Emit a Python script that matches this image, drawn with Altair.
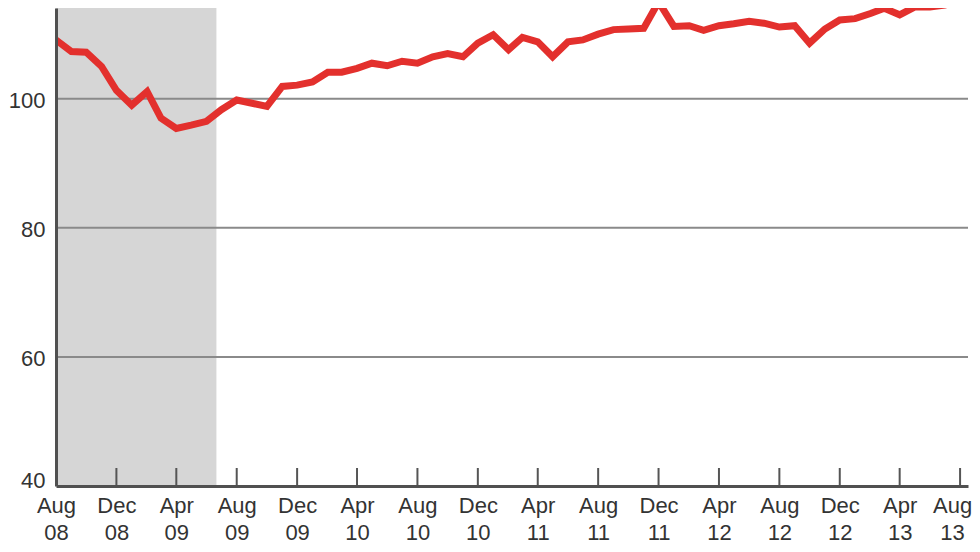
import altair as alt
import pandas as pd

# ---- data ----
start_month = "2008-08-01"
index_values = [
    109.1, 107.3, 107.2, 105.0, 101.3, 99.0, 101.1, 97.0, 95.4, 95.9,
    96.5, 98.3, 99.8, 99.3, 98.8, 101.9, 102.1, 102.6, 104.1, 104.1,
    104.7, 105.5, 105.1, 105.8, 105.5, 106.5, 107.0, 106.5, 108.6, 109.9,
    107.6, 109.5, 108.8, 106.5, 108.8, 109.1, 110.0, 110.7, 110.8, 110.9,
    115.0, 111.2, 111.3, 110.6, 111.3, 111.6, 112.0, 111.7, 111.1, 111.3,
    108.6, 110.8, 112.2, 112.4, 113.2, 114.0, 113.0, 114.2, 114.2, 114.5,
    115.2,
]
recession_start = ["2008-08-01"]
recession_end = ["2009-06-21"]
grid_levels = [60, 80, 100]
y_tick_values = [40, 60, 80, 100]
tick_dates = [
    "2008-12-01", "2009-04-01", "2009-08-01", "2009-12-01", "2010-04-01",
    "2010-08-01", "2010-12-01", "2011-04-01", "2011-08-01", "2011-12-01",
    "2012-04-01", "2012-08-01", "2012-12-01", "2013-04-01", "2013-08-01",
]
label_ymd = [
    (2008, 8), (2008, 12), (2009, 4), (2009, 8), (2009, 12), (2010, 4),
    (2010, 8), (2010, 12), (2011, 4), (2011, 8), (2011, 12), (2012, 4),
    (2012, 8), (2012, 12), (2013, 4), (2013, 8),
]

W, H = 912, 478

months = pd.date_range(start_month, periods=len(index_values), freq="MS")
df_line = pd.DataFrame({"month": months.strftime("%Y-%m-%d"), "value": index_values})
df_shade = pd.DataFrame({"start": recession_start, "end": recession_end})
df_grid = pd.DataFrame({"level": grid_levels})
df_ticks = pd.DataFrame({"tick": tick_dates})

xscale = alt.Scale(
    type="utc",
    domain=[alt.DateTime(year=2008, month=8, date=1, utc=True),
            alt.DateTime(year=2013, month=8, date=17, utc=True)],
)
yscale = alt.Scale(domain=[40, 114.05], nice=False, zero=False)

font = "Liberation Sans"

xaxis = alt.Axis(
    title=None,
    values=[alt.DateTime(year=y, month=m, date=1, utc=True) for y, m in label_ymd],
    labelExpr="[utcFormat(datum.value, '%b'), utcFormat(datum.value, '%y')]",
    ticks=False,
    grid=False,
    labelBaseline="top",
    labelPadding=9,
    labelLineHeight=27,
    labelOffset={"condition": {"test": "utcyear(datum.value) == 2013 && utcmonth(datum.value) == 7",
                               "value": -8}, "value": 0},
    labelFlush=False,
    labelOverlap=False,
    labelBound=False,
    labelFont=font,
    labelFontSize=22,
    labelColor="#333333",
    domainColor="#505050",
    domainWidth=3,
    zindex=1,
)
yaxis = alt.Axis(
    title=None,
    values=y_tick_values,
    ticks=False,
    grid=False,
    labelPadding=11,
    labelOffset={"condition": {"test": "datum.value == 40", "value": -6}, "value": 2},
    labelFont=font,
    labelFontSize=22,
    labelColor="#333333",
    labelBaseline="middle",
    domainColor="#505050",
    domainWidth=3,
    zindex=1,
)

shade = alt.Chart(df_shade).mark_rect(color="#d6d6d6").encode(
    x=alt.X("start:T", scale=xscale, title=None),
    x2="end:T",
    y=alt.value(0),
    y2=alt.value(H),
)

grid = alt.Chart(df_grid).mark_rule(color="#8a8a8a", strokeWidth=2).encode(
    y=alt.Y("level:Q", scale=yscale, title=None),
    x=alt.value(0),
    x2=alt.value(W),
)

ticks = alt.Chart(df_ticks).mark_rule(color="#555555", strokeWidth=2).encode(
    x=alt.X("tick:T", scale=xscale, title=None),
    y=alt.value(H - 18),
    y2=alt.value(H),
)

line = alt.Chart(df_line).mark_line(color="#e3302d", strokeWidth=7, clip=True).encode(
    x=alt.X("month:T", scale=xscale, axis=xaxis),
    y=alt.Y("value:Q", scale=yscale, axis=yaxis),
)

chart = (
    alt.layer(shade, grid, ticks, line)
    .properties(
        width=W,
        height=H,
        autosize=alt.AutoSizeParams(type="none"),
        padding={"left": 48, "top": 0, "right": 4, "bottom": 58},
        background="white",
    )
    .configure_view(stroke=None)
)

chart.save("out.html", embed_options={"renderer": "svg", "actions": False})
